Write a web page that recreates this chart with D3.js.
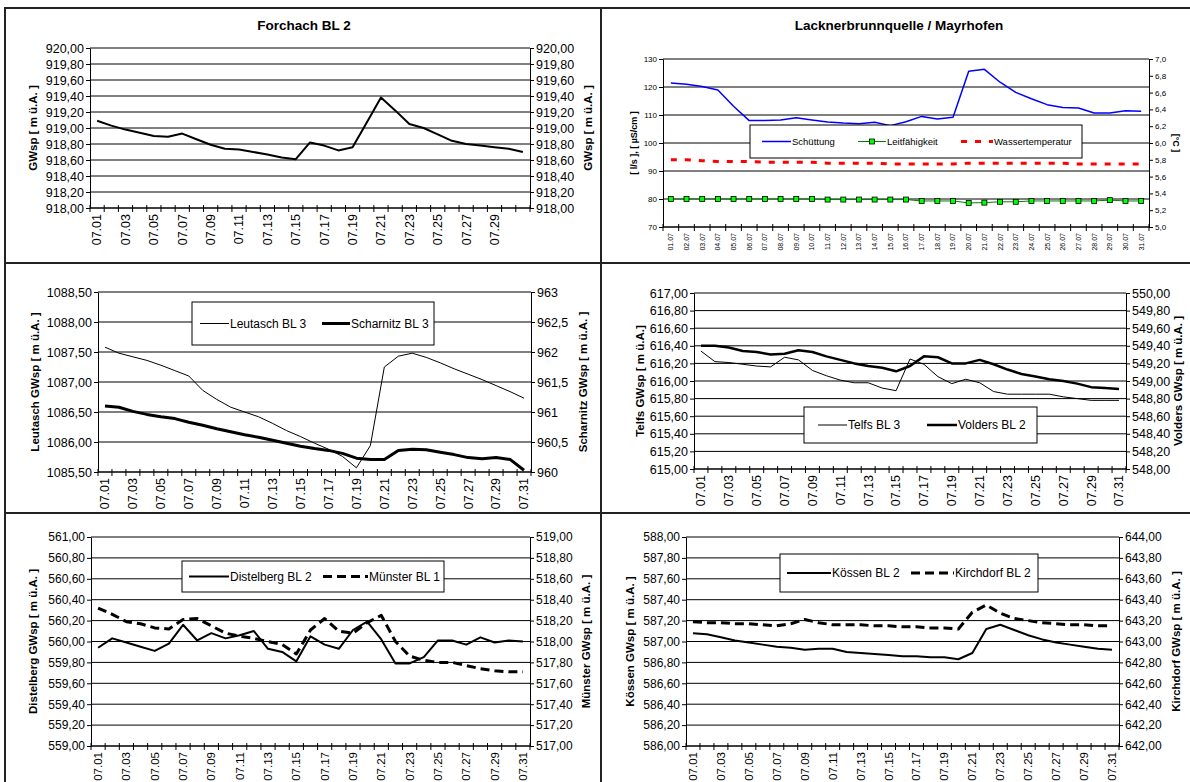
<!DOCTYPE html>
<html>
<head>
<meta charset="utf-8">
<script src="https://cdn.jsdelivr.net/npm/d3@7/dist/d3.min.js"></script>
<style>
  body { margin: 0; background: #fff; }
  svg { display: block; font-family: Arial, "Liberation Sans", sans-serif; }
</style>
</head>
<body>
<div class="chart"></div>
<script>
(function () {
    'use strict';

    /* Kategorien */
    const days = d3.range(1, 32).map(d => '07.' + String(d).padStart(2, '0'));
    const daysDM = d3.range(1, 32).map(d => String(d).padStart(2, '0') + '.07');

    const forchach = [919.09, 919.03, 918.98, 918.94, 918.90, 918.89, 918.93, 918.86, 918.79, 918.74, 918.73,
        918.70, 918.67, 918.63, 918.61, 918.82, 918.78, 918.72, 918.76, 919.07, 919.38, 919.22, 919.05,
        919.00, 918.92, 918.84, 918.80, 918.78, 918.76, 918.74, 918.70];
    const schuettung = [121.4, 121.0, 120.2, 118.9, 113.1, 108.0, 108.0, 108.2, 109.0, 108.2, 107.5, 107.1,
        106.9, 107.4, 106.2, 107.6, 109.5, 108.6, 109.2, 125.6, 126.3, 121.7, 118.1, 115.8, 113.7, 112.7,
        112.5, 110.7, 110.7, 111.5, 111.3];
    const leitfaehigkeit = [80.0, 80.0, 80.0, 80.0, 80.0, 80.0, 80.0, 80.0, 80.0, 80.0, 79.8, 79.8, 79.8, 79.8,
        79.8, 79.8, 79.3, 79.3, 79.3, 78.6, 78.7, 79.0, 79.0, 79.3, 79.3, 79.3, 79.3, 79.3, 79.6, 79.3, 79.3];
    const wassertemperatur = [5.80, 5.80, 5.79, 5.78, 5.78, 5.78, 5.77, 5.77, 5.77, 5.77, 5.76, 5.76, 5.76,
        5.76, 5.75, 5.75, 5.75, 5.75, 5.75, 5.76, 5.76, 5.76, 5.76, 5.76, 5.76, 5.76, 5.75, 5.75, 5.75,
        5.75, 5.75];
    const leutasch = [1087.58, 1087.48, 1087.42, 1087.36, 1087.28, 1087.19, 1087.10, 1086.86, 1086.71, 1086.58,
        1086.50, 1086.42, 1086.31, 1086.19, 1086.09, 1085.98, 1085.88, 1085.76, 1085.57, 1085.94, 1087.25,
        1087.43, 1087.48, 1087.41, 1087.32, 1087.22, 1087.13, 1087.04, 1086.94, 1086.84, 1086.73];
    const scharnitz = [961.10, 961.08, 961.01, 960.96, 960.92, 960.89, 960.83, 960.78, 960.72, 960.67, 960.62,
        960.58, 960.53, 960.48, 960.43, 960.39, 960.36, 960.31, 960.23, 960.21, 960.21, 960.36, 960.38,
        960.37, 960.33, 960.29, 960.24, 960.22, 960.24, 960.21, 960.03];
    const telfs = [616.34, 616.22, 616.21, 616.19, 616.17, 616.16, 616.27, 616.24, 616.12, 616.06, 616.01,
        615.98, 615.98, 615.92, 615.89, 616.25, 616.19, 616.05, 615.97, 616.02, 615.98, 615.88, 615.85,
        615.85, 615.85, 615.85, 615.82, 615.80, 615.78, 615.78, 615.78];
    const volders = [549.40, 549.40, 549.38, 549.34, 549.33, 549.30, 549.31, 549.35, 549.33, 549.28, 549.24,
        549.20, 549.17, 549.15, 549.11, 549.17, 549.28, 549.27, 549.20, 549.20, 549.24, 549.19, 549.13,
        549.08, 549.05, 549.02, 549.00, 548.97, 548.93, 548.92, 548.91];
    const distelberg = [559.94, 560.03, 559.99, 559.95, 559.91, 559.98, 560.16, 560.01, 560.08, 560.03, 560.06,
        560.10, 559.93, 559.90, 559.81, 560.05, 559.97, 559.93, 560.11, 560.19, 560.02, 559.79, 559.79,
        559.85, 560.01, 560.01, 559.97, 560.04, 559.99, 560.01, 560.00];
    const muenster = [518.32, 518.26, 518.19, 518.17, 518.13, 518.12, 518.21, 518.22, 518.15, 518.08, 518.05,
        518.03, 518.00, 517.97, 517.88, 518.11, 518.22, 518.10, 518.08, 518.18, 518.25, 518.00, 517.86,
        517.82, 517.80, 517.80, 517.77, 517.74, 517.72, 517.71, 517.71];
    const koessen = [587.08, 587.07, 587.04, 587.01, 586.99, 586.97, 586.95, 586.94, 586.92, 586.93, 586.93,
        586.90, 586.89, 586.88, 586.87, 586.86, 586.86, 586.85, 586.85, 586.83, 586.89, 587.12, 587.16,
        587.11, 587.06, 587.02, 586.99, 586.97, 586.95, 586.93, 586.92];
    const kirchdorf = [643.19, 643.18, 643.18, 643.17, 643.17, 643.16, 643.15, 643.17, 643.21, 643.18, 643.16,
        643.16, 643.16, 643.15, 643.15, 643.14, 643.14, 643.13, 643.13, 643.12, 643.28, 643.35, 643.27,
        643.22, 643.20, 643.18, 643.17, 643.16, 643.16, 643.15, 643.15];

    /* Achsenbeschriftungen */
    const ticksForchach = [918.0, 918.2, 918.4, 918.6, 918.8, 919.0, 919.2, 919.4, 919.6, 919.8, 920.0];
    const ticksFlow = [70, 80, 90, 100, 110, 120, 130];
    const ticksTemp = [5.0, 5.2, 5.4, 5.6, 5.8, 6.0, 6.2, 6.4, 6.6, 6.8, 7.0];
    const ticksLeutasch = [1085.5, 1086.0, 1086.5, 1087.0, 1087.5, 1088.0, 1088.5];
    const ticksScharnitz = [960, 960.5, 961, 961.5, 962, 962.5, 963];
    const ticksTelfs = [615.0, 615.2, 615.4, 615.6, 615.8, 616.0, 616.2, 616.4, 616.6, 616.8, 617.0];
    const ticksVolders = [548.0, 548.2, 548.4, 548.6, 548.8, 549.0, 549.2, 549.4, 549.6, 549.8, 550.0];
    const ticksDistelberg = [559.0, 559.2, 559.4, 559.6, 559.8, 560.0, 560.2, 560.4, 560.6, 560.8, 561.0];
    const ticksMuenster = [517.0, 517.2, 517.4, 517.6, 517.8, 518.0, 518.2, 518.4, 518.6, 518.8, 519.0];
    const ticksKoessen = [586.0, 586.2, 586.4, 586.6, 586.8, 587.0, 587.2, 587.4, 587.6, 587.8, 588.0];
    const ticksKirchdorf = [642.0, 642.2, 642.4, 642.6, 642.8, 643.0, 643.2, 643.4, 643.6, 643.8, 644.0];

    const de = d3.formatLocale({ decimal: ',', thousands: '.', grouping: [3], currency: ['', ''] });
    const f2 = de.format('.2f');
    const f1 = de.format('.1f');
    const f0 = de.format('d');
    const fTrim = de.format('~f');

    const svg = d3.select('.chart').append('svg')
        .attr('width', 1190)
        .attr('height', 782);

    /* Rahmen der sechs Felder */
    const frames = [[5, 8, 596, 255], [601, 8, 600, 255], [5, 263, 596, 250], [601, 263, 600, 250],
        [5, 513, 596, 290], [601, 513, 600, 290]];
    svg.append('g').selectAll('rect').data(frames).join('rect')
        .attr('x', d => d[0]).attr('y', d => d[1])
        .attr('width', d => d[2]).attr('height', d => d[3])
        .attr('fill', 'none').attr('stroke', '#222').attr('stroke-width', 2);

    function drawPanel(p) {
        const g = svg.append('g');
        const x = d3.scaleBand().domain(p.cats).range([p.left, p.right]);
        const yL = d3.scaleLinear().domain(d3.extent(p.ticksLeft)).range([p.bottom, p.top]);
        const yR = d3.scaleLinear().domain(d3.extent(p.ticksRight)).range([p.bottom, p.top]);
        const cx = c => x(c) + x.bandwidth() / 2;

        /* Gitterlinien */
        g.append('g').selectAll('line').data(p.ticksLeft).join('line')
            .attr('x1', p.left).attr('x2', p.right)
            .attr('y1', d => yL(d)).attr('y2', d => yL(d))
            .attr('stroke', '#000').attr('stroke-width', 1);

        /* y-Achsen */
        const axL = g.append('g').attr('transform', 'translate(' + p.left + ',0)')
            .call(d3.axisLeft(yL).tickValues(p.ticksLeft).tickFormat(p.fmtLeft)
                .tickSizeInner(4).tickSizeOuter(0).tickPadding(2));
        const axR = g.append('g').attr('transform', 'translate(' + p.right + ',0)')
            .call(d3.axisRight(yR).tickValues(p.ticksRight).tickFormat(p.fmtRight)
                .tickSizeInner(4).tickSizeOuter(0).tickPadding(2));
        [axL, axR].forEach(function (ax) {
            ax.attr('font-family', null).attr('font-size', p.tickFont);
            ax.selectAll('text').attr('fill', '#000');
            ax.selectAll('line').attr('stroke', '#000');
            ax.select('.domain').attr('stroke', '#000');
        });

        /* x-Achse, Striche zwischen den Kategorien */
        g.append('line')
            .attr('x1', p.left).attr('x2', p.right)
            .attr('y1', p.bottom).attr('y2', p.bottom)
            .attr('stroke', '#000');
        g.append('g').selectAll('line').data(p.cats.map(c => x(c)).concat([p.right])).join('line')
            .attr('x1', d => d).attr('x2', d => d)
            .attr('y1', p.bottom - 3).attr('y2', p.bottom + 4)
            .attr('stroke', '#000');
        g.append('g').selectAll('text')
            .data(p.cats.filter((c, i) => i % p.labelStep === 0 && i <= p.lastLabel))
            .join('text')
            .attr('transform', c => 'translate(' + cx(c) + ',' + (p.bottom + 6) + ') rotate(-90)')
            .attr('dy', '.35em')
            .attr('text-anchor', 'end')
            .attr('font-size', p.xFont)
            .text(c => c);

        /* Achsentitel */
        g.append('text')
            .attr('transform', 'translate(' + p.titleLeftX + ',' + (p.top + p.bottom) / 2 + ') rotate(-90)')
            .attr('text-anchor', 'middle').attr('dy', '.35em')
            .attr('font-weight', 700).attr('font-size', p.axisTitleFont)
            .text(p.titleLeft);
        g.append('text')
            .attr('transform', 'translate(' + p.titleRightX + ',' + (p.top + p.bottom) / 2 + ') rotate(' + (p.rightRot || -90) + ')')
            .attr('text-anchor', 'middle').attr('dy', '.35em')
            .attr('font-weight', 700).attr('font-size', p.axisTitleFont)
            .text(p.titleRight);

        if (p.title) {
            g.append('text')
                .attr('x', p.titleX).attr('y', p.titleY)
                .attr('text-anchor', 'middle')
                .attr('font-weight', 700).attr('font-size', 13.5)
                .text(p.title);
        }

        /* Ganglinien */
        p.series.forEach(function (s) {
            const y = s.axis === 'right' ? yR : yL;
            const line = d3.line()
                .x((d, i) => cx(p.cats[i]))
                .y(d => y(d));
            g.append('path')
                .datum(s.values)
                .attr('d', line)
                .attr('fill', 'none')
                .attr('stroke', s.color)
                .attr('stroke-width', s.width)
                .attr('stroke-dasharray', s.dash || null)
                .attr('stroke-linejoin', 'round');
            if (s.marker) {
                g.append('g').selectAll('rect').data(s.values).join('rect')
                    .attr('x', (d, i) => cx(p.cats[i]) - 2.5)
                    .attr('y', d => y(d) - 2.5)
                    .attr('width', 5).attr('height', 5)
                    .attr('fill', s.marker).attr('stroke', '#000').attr('stroke-width', 0.8);
            }
        });

        /* Legende */
        const lg = p.legend;
        if (!lg) return;
        const leg = g.append('g');
        leg.append('rect')
            .attr('x', lg.x).attr('y', lg.y).attr('width', lg.w).attr('height', lg.h)
            .attr('fill', '#fff').attr('stroke', '#000').attr('stroke-width', 1);
        const ly = lg.y + lg.h / 2;
        lg.items.forEach(function (it, k) {
            const s = p.series[k];
            leg.append('line')
                .attr('x1', it[0]).attr('x2', it[1]).attr('y1', ly).attr('y2', ly)
                .attr('stroke', s.color).attr('stroke-width', s.width)
                .attr('stroke-dasharray', s.dash || null);
            if (s.marker) {
                leg.append('rect')
                    .attr('x', (it[0] + it[1]) / 2 - 2.5).attr('y', ly - 2.5)
                    .attr('width', 5).attr('height', 5)
                    .attr('fill', s.marker).attr('stroke', '#000').attr('stroke-width', 0.8);
            }
            leg.append('text')
                .attr('x', it[1] + 1).attr('y', ly).attr('dy', '.35em')
                .attr('font-size', lg.font)
                .text(s.name);
        });
    }

    drawPanel({
        cats: days, left: 90, right: 530, top: 48, bottom: 208,
        ticksLeft: ticksForchach, ticksRight: ticksForchach, fmtLeft: f2, fmtRight: f2,
        tickFont: 12.5, xFont: 12.5, labelStep: 2, lastLabel: 28,
        titleLeft: 'GWsp [ m ü.A. ]', titleLeftX: 33, titleRight: 'GWsp [ m ü.A. ]', titleRightX: 588,
        axisTitleFont: 11.5, title: 'Forchach BL 2', titleX: 304, titleY: 30,
        series: [{ name: 'Forchach BL 2', values: forchach, axis: 'left', color: '#000', width: 2 }],
        legend: null
    });

    drawPanel({
        cats: daysDM, left: 663, right: 1149, top: 59, bottom: 227,
        ticksLeft: ticksFlow, ticksRight: ticksTemp, fmtLeft: f0, fmtRight: f1,
        tickFont: 8, xFont: 7, labelStep: 1, lastLabel: 30,
        titleLeft: '[ l/s ], [ µS/cm ]', titleLeftX: 634, titleRight: '[°C ]', titleRightX: 1176, rightRot: 90,
        axisTitleFont: 9, title: 'Lacknerbrunnquelle / Mayrhofen', titleX: 899, titleY: 30,
        series: [
            { name: 'Schüttung', values: schuettung, axis: 'left', color: '#0000ff', width: 1.5 },
            { name: 'Leitfähigkeit', values: leitfaehigkeit, axis: 'left', color: '#008000', width: 1, marker: '#00ff00' },
            { name: 'Wassertemperatur', values: wassertemperatur, axis: 'right', color: '#ff0000', width: 3, dash: '6,8' }
        ],
        legend: { x: 750, y: 125, w: 332, h: 33, font: 9.5, items: [[762, 791], [858, 886], [961, 993]] }
    });

    drawPanel({
        cats: days, left: 98, right: 531, top: 292, bottom: 472,
        ticksLeft: ticksLeutasch, ticksRight: ticksScharnitz, fmtLeft: f2, fmtRight: fTrim,
        tickFont: 12.5, xFont: 12.5, labelStep: 2, lastLabel: 30,
        titleLeft: 'Leutasch GWsp [ m ü.A. ]', titleLeftX: 35,
        titleRight: 'Scharnitz GWsp [ m ü.A. ]', titleRightX: 583,
        axisTitleFont: 11.5,
        series: [
            { name: 'Leutasch BL 3', values: leutasch, axis: 'left', color: '#000', width: 1 },
            { name: 'Scharnitz BL 3', values: scharnitz, axis: 'right', color: '#000', width: 3 }
        ],
        legend: { x: 192, y: 302, w: 242, h: 43, font: 12, items: [[200, 229], [322, 350]] }
    });

    drawPanel({
        cats: days, left: 694, right: 1126, top: 293, bottom: 469,
        ticksLeft: ticksTelfs, ticksRight: ticksVolders, fmtLeft: f2, fmtRight: f2,
        tickFont: 12.5, xFont: 12.5, labelStep: 2, lastLabel: 30,
        titleLeft: 'Telfs GWsp [ m ü.A.]', titleLeftX: 640,
        titleRight: 'Volders GWsp [ m ü.A. ]', titleRightX: 1178,
        axisTitleFont: 11.5,
        series: [
            { name: 'Telfs BL 3', values: telfs, axis: 'left', color: '#000', width: 1 },
            { name: 'Volders BL 2', values: volders, axis: 'right', color: '#000', width: 2.5 }
        ],
        legend: { x: 804, y: 407, w: 233, h: 36, font: 12, items: [[818, 847], [927, 957]] }
    });

    drawPanel({
        cats: days, left: 91, right: 530, top: 537, bottom: 746,
        ticksLeft: ticksDistelberg, ticksRight: ticksMuenster, fmtLeft: f2, fmtRight: f2,
        tickFont: 12, xFont: 11.5, labelStep: 2, lastLabel: 30,
        titleLeft: 'Distelberg GWsp [ m ü.A. ]', titleLeftX: 33,
        titleRight: 'Münster GWsp [ m ü.A. ]', titleRightX: 586,
        axisTitleFont: 11.5,
        series: [
            { name: 'Distelberg BL 2', values: distelberg, axis: 'left', color: '#000', width: 2 },
            { name: 'Münster BL 1', values: muenster, axis: 'right', color: '#000', width: 3, dash: '9,5' }
        ],
        legend: { x: 182, y: 561, w: 262, h: 31, font: 12, items: [[189, 229], [323, 368]] }
    });

    drawPanel({
        cats: days, left: 686, right: 1119, top: 537, bottom: 746,
        ticksLeft: ticksKoessen, ticksRight: ticksKirchdorf, fmtLeft: f2, fmtRight: f2,
        tickFont: 12, xFont: 11.5, labelStep: 2, lastLabel: 30,
        titleLeft: 'Kössen GWsp [ m ü.A. ]', titleLeftX: 630,
        titleRight: 'Kirchdorf GWsp [ m ü.A. ]', titleRightX: 1176,
        axisTitleFont: 11.5,
        series: [
            { name: 'Kössen BL 2', values: koessen, axis: 'left', color: '#000', width: 2 },
            { name: 'Kirchdorf BL 2', values: kirchdorf, axis: 'right', color: '#000', width: 3, dash: '9,5' }
        ],
        legend: { x: 780, y: 554, w: 258, h: 38, font: 12, items: [[787, 831], [911, 954]] }
    });
}());
</script>
</body>
</html>
